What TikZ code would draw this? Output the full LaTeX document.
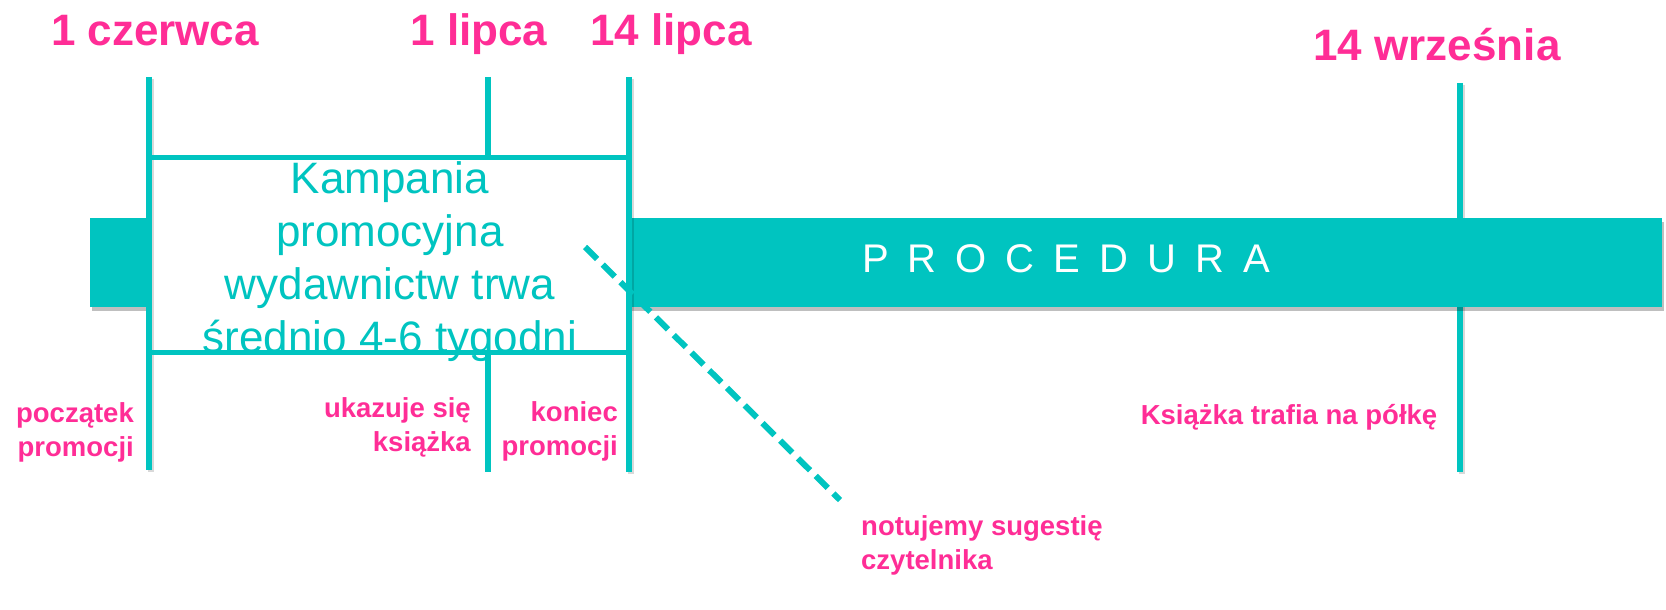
\documentclass[tikz,border=0pt]{standalone}
\usepackage{fontspec}
\setmainfont{Liberation Sans}
\usetikzlibrary{shadows}
\definecolor{teal1}{RGB}{0,196,192}
\definecolor{pink1}{RGB}{255,45,150}
\begin{document}
\begin{tikzpicture}[x=1pt,y=-1pt,
  date/.style={font=\fontsize{44}{50}\selectfont\bfseries, text=pink1, inner sep=0, anchor=base},
  lbl/.style={font=\fontsize{27.5}{34}\selectfont\bfseries, text=pink1, inner sep=0},
  vline/.style={draw=teal1, line width=6pt},
  vshadow/.style={draw=black, opacity=0.15, line width=6pt},
  hline/.style={draw=teal1, line width=5pt},
  dashline/.style={draw=teal1, line width=6pt, dash pattern=on 17pt off 8pt}]
\useasboundingbox (0,0) rectangle (1666,610);
% coordinates
\coordinate (a1) at (149,77);  \coordinate (a2) at (149,470);
\coordinate (b1) at (488,77);  \coordinate (b2) at (488,157);
\coordinate (b3) at (488,352); \coordinate (b4) at (488,472);
\coordinate (c1) at (629,77);  \coordinate (c2) at (629,472);
\coordinate (e1) at (1460,83); \coordinate (e2) at (1460,472);
\coordinate (h1) at (149,157); \coordinate (h2) at (629,157);
\coordinate (h3) at (149,352); \coordinate (h4) at (629,352);
\coordinate (d1) at (585,247); \coordinate (d2) at (840,500);
% line behind the bar
\draw[vshadow] ([shift={(2,2)}]e1) -- ([shift={(2,2)}]e2);
\draw[vline] (e1) -- (e2);
% bar
\fill[teal1, drop shadow={shadow xshift=2pt, shadow yshift=-4pt, opacity=0.25, fill=black}] (90,218) rectangle (1662,307);
% white box
\fill[white] (149,157) rectangle (629,352);
% dates
\node[date] (jun1) at (155,46) {1 czerwca};
\node[date] (jul1) at (479,46) {1 lipca};
\node[date] (jul14) at (671,46) {14 lipca};
\node[date] (sep14) at (1437,61) {14 września};
% campaign text
\node[font=\fontsize{44}{53}\selectfont, text=teal1, align=center, inner sep=0, anchor=north] (kamp) at (390,161) {Kampania\\promocyjna\\wydawnictw trwa\\średnio 4-6 tygodni};
% procedure
\node[font=\fontsize{40}{48}\selectfont, text=white, inner sep=0, anchor=base] (proc) at (1066,272) {P\hspace{19pt}R\hspace{19pt}O\hspace{19pt}C\hspace{19pt}E\hspace{19pt}D\hspace{19pt}U\hspace{19pt}R\hspace{19pt}A};
% vertical lines
\draw[vshadow] ([shift={(2,2)}]a1) -- ([shift={(2,2)}]a2);
\draw[vshadow] ([shift={(2,2)}]c1) -- ([shift={(2,2)}]c2);
\draw[vline] (a1) -- (a2);
\draw[vline] (b1) -- (b2);
\draw[vline] (b3) -- (b4);
\draw[vline] (c1) -- (c2);
\draw[hline] (h1) -- (h2);
\draw[hline] (h3) -- (h4);
% labels
\node[lbl, align=right, anchor=east] (pocz) at (134,432) {początek\\promocji};
\node[lbl, align=right, anchor=east] (ukaz) at (471,427) {ukazuje się\\książka};
\node[lbl, align=right, anchor=east] (kon) at (618,431) {koniec\\promocji};
\node[lbl] (ksiazka) at (1289,417) {Książka trafia na półkę};
\node[lbl, align=left, anchor=west] (notuj) at (861,545) {notujemy sugestię\\czytelnika};
% dashed
\draw[dashline] (d1) -- (d2);
\end{tikzpicture}
\end{document}
